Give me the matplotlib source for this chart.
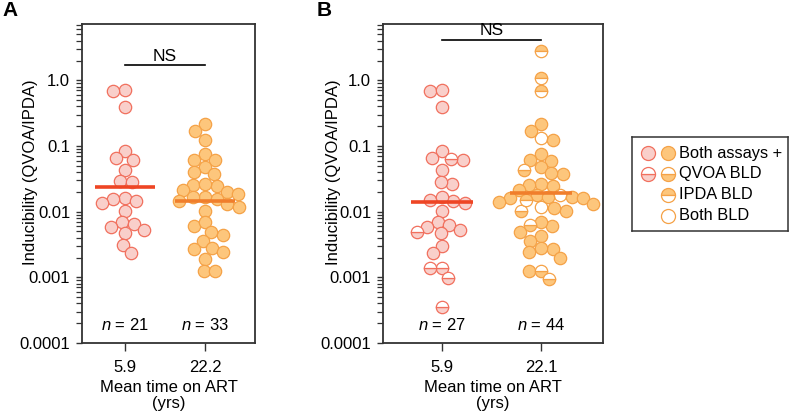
import numpy as np
import matplotlib
matplotlib.use('Agg')
import matplotlib.pyplot as plt

plt.rcParams['font.family'] = ['Liberation Sans', 'DejaVu Sans']
plt.rcParams['mathtext.fontset'] = 'custom'
plt.rcParams['mathtext.it'] = 'Liberation Sans:italic'
plt.rcParams['mathtext.rm'] = 'Liberation Sans'

# ---------------- data ----------------
a_xticklabels = ['5.9', '22.2']
b_xticklabels = ['5.9', '22.1']
xlabel_text = 'Mean time on ART\n(yrs)'
ylabel_text = 'Inducibility (QVOA/IPDA)'
sig_text = 'NS'
ytick_vals = [1e-4, 1e-3, 1e-2, 1e-1, 1.0]
ytick_labels = ['0.0001', '0.001', '0.01', '0.1', '1.0']
legend_labels = ['Both assays +', 'QVOA BLD', 'IPDA BLD', 'Both BLD']

a_short = [0.70, 0.687, 0.391, 0.0833, 0.0645, 0.0616, 0.0433, 0.0297, 0.028,
           0.0162, 0.0154, 0.0147, 0.0137, 0.0104, 0.00696, 0.00649, 0.00584,
           0.00526, 0.00466, 0.0031, 0.00231]
a_short_type = ['B'] * len(a_short)

a_long = [0.218, 0.171, 0.124, 0.0742, 0.0611, 0.0616, 0.0486, 0.0404, 0.0376,
          0.0249, 0.0258, 0.0268, 0.0202, 0.0213, 0.0188, 0.0165, 0.0156, 0.0165,
          0.0144, 0.0131, 0.0104, 0.0116, 0.00611, 0.00687, 0.00446, 0.00483,
          0.00361, 0.0027, 0.00275, 0.00239, 0.0019, 0.00126, 0.00126]
a_long_type = ['B'] * len(a_long)

b_short = [0.687, 0.703, 0.391, 0.0833, 0.0661, 0.0638, 0.0616, 0.0433, 0.0265,
           0.0287, 0.0152, 0.0144, 0.0136, 0.0165, 0.01035, 0.00703, 0.00633,
           0.00526, 0.00466, 0.00495, 0.00576, 0.00303, 0.00231, 0.00141,
           0.00141, 0.000993, 0.000355]
b_short_type = ['B', 'B', 'B', 'B', 'B', 'Q', 'B', 'B', 'B',
                'B', 'B', 'B', 'B', 'B', 'B', 'B', 'B',
                'B', 'B', 'Q', 'B', 'B', 'B', 'Q',
                'Q', 'Q', 'Q']

b_long = [2.77, 1.07, 0.679, 0.215, 0.172, 0.1325, 0.125, 0.0742, 0.0601, 0.0616,
          0.0486, 0.0438, 0.0374, 0.0387, 0.0265, 0.0258, 0.0249, 0.0211, 0.0180,
          0.0165, 0.0164, 0.0180, 0.0165, 0.0151, 0.0160, 0.0139, 0.0129, 0.01035,
          0.01035, 0.0115, 0.0118, 0.00618, 0.00601, 0.00687, 0.00430, 0.00483,
          0.00361, 0.0027, 0.00239, 0.00275, 0.00195, 0.00127, 0.00124, 0.00094]
b_long_type = ['I', 'I', 'I', 'B', 'B', 'N', 'B', 'B', 'B', 'B',
               'B', 'Q', 'B', 'B', 'B', 'B', 'B', 'B', 'B',
               'B', 'B', 'N', 'B', 'I', 'B', 'B', 'B', 'Q',
               'B', 'B', 'N', 'Q', 'B', 'B', 'B', 'B',
               'B', 'B', 'B', 'B', 'B', 'Q', 'B', 'Q']

# ---------------- style ----------------
PINK_FACE = '#F9CFCA'
PINK_EDGE = '#F1705E'
ORANGE_FACE = '#FDC67C'
ORANGE_EDGE = '#F5A247'
PINK_LINE = '#EE4524'
ORANGE_LINE = '#F07E2C'
SPINE = '#333333'
MS = 8.9
FS = 12

fig = plt.figure(figsize=(7.89, 4.13), dpi=100)
W, H = 789.0, 413.0


def add_panel(left, right, top=24, bottom=343):
    return fig.add_axes([left / W, 1 - bottom / H, (right - left) / W, (bottom - top) / H])


def swarm_x(ax, xc, vals, d=11.8):
    pts = ax.transData.transform(np.column_stack([np.full(len(vals), xc), vals]))
    cx = pts[0, 0]
    ys = pts[:, 1]
    order = np.argsort(-ys, kind='stable')
    placed = []
    xs = np.zeros(len(vals))
    for i in order:
        y = ys[i]
        cands = [cx]
        for (px, py) in placed:
            dy = abs(py - y)
            if dy < d:
                dx = np.sqrt(d * d - dy * dy)
                cands += [px - dx, px + dx]
        cands.sort(key=lambda c: (round(abs(c - cx), 6), c))
        chosen = cx
        for c in cands:
            if all((c - px) ** 2 + (y - py) ** 2 >= d * d - 1e-6 for px, py in placed):
                chosen = c
                break
        xs[i] = chosen
        placed.append((chosen, y))
    inv = ax.transData.inverted()
    return inv.transform(np.column_stack([xs, ys]))[:, 0]


FILLSTYLE = {'B': 'full', 'Q': 'bottom', 'I': 'top', 'N': 'none'}


def draw_group(ax, xc, vals, types, face, edge, line_color, half_w):
    vals = np.asarray(vals, dtype=float)
    xs = swarm_x(ax, xc, vals)
    for t, fs in FILLSTYLE.items():
        idx = [i for i, tt in enumerate(types) if tt == t]
        if not idx:
            continue
        ax.plot(xs[idx], vals[idx], 'o', ms=MS, mfc=face, mec=edge, mew=0.9,
                fillstyle=fs, markerfacecoloralt='white', ls='none', zorder=3,
                clip_on=False)
    gm = 10 ** np.mean(np.log10(vals))
    ax.plot([xc - half_w, xc + half_w], [gm, gm], color=line_color, lw=2.6,
            solid_capstyle='butt', zorder=4)


def style_panel(ax, xlim, xticklabels, n_labels, sig_y, ylab_x):
    ax.set_yscale('log')
    ax.set_ylim(1e-4, 7.2)
    ax.set_xlim(*xlim)
    ax.set_yticks(ytick_vals)
    ax.set_yticklabels(ytick_labels)
    ax.yaxis.set_minor_locator(matplotlib.ticker.LogLocator(base=10, subs=np.arange(2, 10), numticks=20))
    ax.yaxis.set_minor_formatter(matplotlib.ticker.NullFormatter())
    ax.set_xticks([1, 2])
    ax.set_xticklabels(xticklabels)
    ax.tick_params(axis='y', which='major', direction='out', length=4.5, width=1.0,
                   color=SPINE, labelsize=FS, pad=4)
    ax.tick_params(axis='y', which='minor', direction='out', length=4.0, width=0.9, color=SPINE)
    ax.tick_params(axis='x', which='major', direction='out', length=5.5, width=1.0,
                   color=SPINE, labelsize=FS, pad=7)
    for s in ax.spines.values():
        s.set_linewidth(1.3)
        s.set_color(SPINE)
    ax.set_xlabel(xlabel_text, fontsize=FS, linespacing=1.1, labelpad=3)
    ax.set_ylabel(ylabel_text, fontsize=FS)
    ax.yaxis.set_label_coords(ylab_x, 0.535)
    for xc, lab in zip([1, 2], n_labels):
        ax.text(xc, 0.056, lab, transform=ax.get_xaxis_transform(), ha='center',
                va='center', fontsize=FS)
    ax.plot([1, 2], [sig_y, sig_y], color='black', lw=1.2, zorder=2)
    ax.text(1.5, sig_y * 1.06, sig_text, ha='center', va='bottom', fontsize=FS + 0.5)


# Panel A
axA = add_panel(82, 255)
style_panel(axA, (0.4625, 2.625), a_xticklabels,
            [r'$n$ = %d' % len(a_short), r'$n$ = %d' % len(a_long)], 1.69, -44 / 173)
draw_group(axA, 1, a_short, a_short_type, PINK_FACE, PINK_EDGE, PINK_LINE, 0.38)
draw_group(axA, 2, a_long, a_long_type, ORANGE_FACE, ORANGE_EDGE, ORANGE_LINE, 0.38)

# Panel B
axB = add_panel(383, 603)
style_panel(axB, (0.404, 2.626), b_xticklabels,
            [r'$n$ = %d' % len(b_short), r'$n$ = %d' % len(b_long)], 4.18, -42 / 220)
draw_group(axB, 1, b_short, b_short_type, PINK_FACE, PINK_EDGE, PINK_LINE, 0.31)
draw_group(axB, 2, b_long, b_long_type, ORANGE_FACE, ORANGE_EDGE, ORANGE_LINE, 0.31)

# Panel letters
fig.text(2 / W, 1 - 10 / H, 'A', fontsize=15, fontweight='bold', va='center', ha='left')
fig.text(317 / W, 1 - 10 / H, 'B', fontsize=15, fontweight='bold', va='center', ha='left')

# Legend (drawn as a small box)
lx0, ly0, lx1, ly1 = 631.5, 136.5, 788, 230.5
axL = fig.add_axes([lx0 / W, 1 - ly1 / H, (lx1 - lx0) / W, (ly1 - ly0) / H])
axL.set_xlim(0, lx1 - lx0)
axL.set_ylim(ly1 - ly0, 0)
axL.set_xticks([])
axL.set_yticks([])
for s in axL.spines.values():
    s.set_linewidth(1.1)
    s.set_color(SPINE)
row_y = [16.6, 37.0, 58.3, 79.3]
pink_col, orange_col, text_x = 16.8, 36.2, 47.5
legend_pink = ['B', 'Q', None, None]
legend_orange = ['B', 'Q', 'I', 'N']
for y, lab, tp, to in zip(row_y, legend_labels, legend_pink, legend_orange):
    if tp is not None:
        axL.plot([pink_col], [y], 'o', ms=MS + 1.2, mfc=PINK_FACE, mec=PINK_EDGE, mew=0.9,
                 fillstyle=FILLSTYLE[tp], markerfacecoloralt='white')
    axL.plot([orange_col], [y], 'o', ms=MS + 1.2, mfc=ORANGE_FACE, mec=ORANGE_EDGE, mew=0.9,
             fillstyle=FILLSTYLE[to], markerfacecoloralt='white')
    axL.text(text_x, y, lab, fontsize=11.8, va='center', ha='left')

fig.savefig('out.png', dpi=100)
